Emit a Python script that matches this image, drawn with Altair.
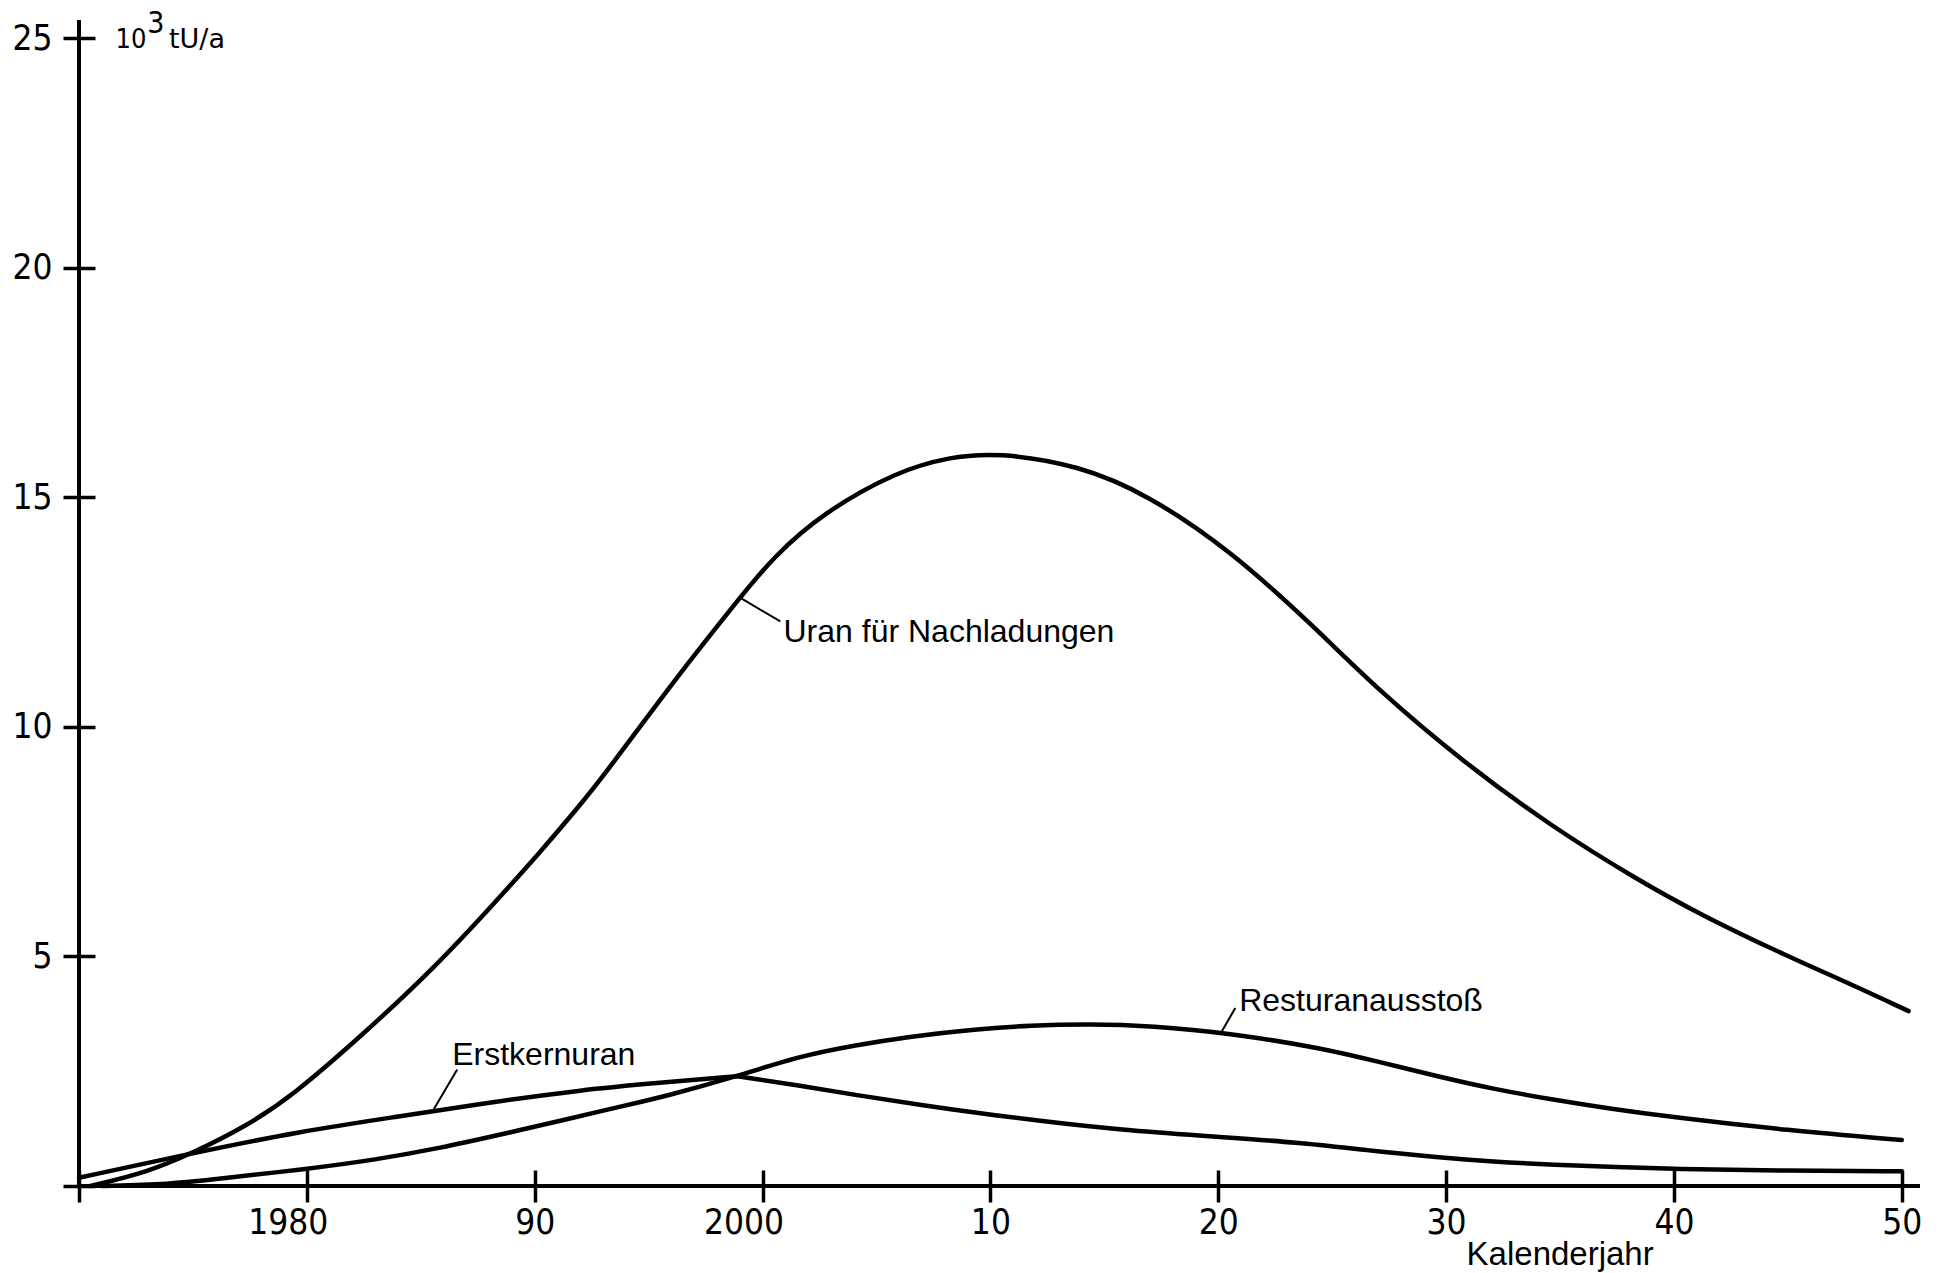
import altair as alt
import pandas as pd

# Uranbedarf in 10^3 t U pro Jahr
nach_years = [1970.5, 1973.0, 1975.0, 1977.4, 1979.4, 1982.35, 1985.6, 1988.3, 1990.2,
              1992.0, 1993.2, 1996.1, 1998.9, 2000.5, 2002.7, 2005.9, 2008.2, 2010.3,
              2013.9, 2016.9, 2020.5, 2024.2, 2027.0, 2030.8, 2034.6, 2038.4, 2041.2,
              2045.0, 2047.8, 2050.3]
nach_vals = [0.0, 0.3, 0.72, 1.32, 1.98, 3.25, 4.75, 6.2, 7.25,
             8.3, 9.05, 11.0, 12.75, 13.72, 14.68, 15.57, 15.88, 15.98,
             15.7, 15.06, 13.86, 12.19, 10.81, 9.22, 7.84, 6.67, 5.9,
             5.0, 4.39, 3.81]

erst_years = [1970.0, 1975.0, 1979.7, 1984.1, 1988.0, 1992.0, 1995.5, 1998.9,
              2001.5, 2004.1, 2007.0, 2010.2, 2013.0, 2016.0, 2020.0, 2023.5,
              2026.5, 2029.7, 2032.0, 2034.8, 2037.5, 2039.9, 2045.0, 2050.0]
erst_vals = [0.18, 0.72, 1.19, 1.52, 1.82, 2.09, 2.25, 2.39,
             2.2, 1.98, 1.76, 1.54, 1.37, 1.21, 1.07, 0.95,
             0.78, 0.62, 0.53, 0.46, 0.41, 0.37, 0.33, 0.32]
erst_peak = 7  # index of the sharp maximum

rest_years = [1971.0, 1974.0, 1976.0, 1980.0, 1983.0, 1985.9, 1988.5, 1991.4, 1993.5,
              1995.8, 1998.9, 2001.6, 2004.1, 2006.5, 2009.2, 2011.8, 2014.3, 2017.1,
              2020.5, 2024.6, 2027.0, 2029.7, 2032.0, 2034.8, 2037.0, 2039.9, 2045.0,
              2050.0]
rest_vals = [0.0, 0.04, 0.15, 0.37, 0.57, 0.83, 1.12, 1.45, 1.7,
             1.96, 2.39, 2.83, 3.07, 3.26, 3.41, 3.5, 3.53, 3.49,
             3.33, 3.0, 2.71, 2.38, 2.12, 1.87, 1.7, 1.5, 1.21,
             1.0]

x_ticks = [1970, 1980, 1990, 2000, 2010, 2020, 2030, 2040, 2050]
x_labels = ["", "1980", "90", "2000", "10", "20", "30", "40", "50"]
y_ticks = [0, 5, 10, 15, 20, 25]
y_labels = ["", "5", "10", "15", "20", "25"]

X_DOMAIN = [1970, 2050.8]
Y_DOMAIN = [0, 25.4]

COND = "DejaVu Sans Condensed, Liberation Sans, sans-serif"
SANS = "Liberation Sans, Arial, sans-serif"

# ---- curve table -------------------------------------------------------
rows = []
for y, v in zip(nach_years, nach_vals):
    rows.append({"year": y, "value": v, "seg": "nach"})
for i, (y, v) in enumerate(zip(erst_years, erst_vals)):
    if i <= erst_peak:
        rows.append({"year": y, "value": v, "seg": "erst_a"})
    if i >= erst_peak:
        rows.append({"year": y, "value": v, "seg": "erst_b"})
for y, v in zip(rest_years, rest_vals):
    rows.append({"year": y, "value": v, "seg": "rest"})
curves = pd.DataFrame(rows)


def label_expr(values, labels):
    expr = "''"
    for val, lab in reversed(list(zip(values, labels))):
        expr = f"datum.value == {val} ? '{lab}' : ({expr})"
    return expr


# four-digit year labels sit a little left of their tick
four_digit = " || ".join(f"datum.value == {v}" for v, lab in zip(x_ticks, x_labels) if len(lab) == 4)

x_scale = alt.Scale(domain=X_DOMAIN, nice=False, zero=False)
y_scale = alt.Scale(domain=Y_DOMAIN, nice=False, zero=False)

x_axis = alt.Axis(values=x_ticks, labelExpr=label_expr(x_ticks, x_labels),
                  tickSize=32, offset=-16, domain=False, grid=False,
                  tickWidth=3.5, tickColor="black", labelColor="black",
                  labelFont=COND, labelFontSize=35, labelPadding=3,
                  labelOffset={"condition": {"test": four_digit, "value": -19}, "value": 0},
                  labelFlush=False, labelOverlap=False, title=None)
y_axis = alt.Axis(values=y_ticks, labelExpr=label_expr(y_ticks, y_labels),
                  tickSize=32, offset=-16, domain=False, grid=False,
                  tickWidth=3.5, tickColor="black", labelColor="black",
                  labelFont=COND, labelFontSize=35, labelPadding=11,
                  labelFlush=False, labelOverlap=False, title=None)


def ex(field):
    return alt.X(field, type="quantitative", scale=x_scale, axis=x_axis)


def ey(field):
    return alt.Y(field, type="quantitative", scale=y_scale, axis=y_axis)


lines = alt.Chart(curves).mark_line(
    interpolate="basis", color="black", strokeWidth=4.5,
    strokeCap="round", strokeJoin="round"
).encode(x=ex("year"), y=ey("value"), detail="seg:N")

# axis lines
axis_lines = pd.DataFrame({
    "x": [X_DOMAIN[0], X_DOMAIN[0]], "x2": [X_DOMAIN[1], X_DOMAIN[0]],
    "y": [Y_DOMAIN[0], Y_DOMAIN[0]], "y2": [Y_DOMAIN[0], Y_DOMAIN[1]],
})
axes = alt.Chart(axis_lines).mark_rule(color="black", strokeWidth=4).encode(
    x=ex("x"), x2="x2:Q", y=ey("y"), y2="y2:Q",
)

# leader lines from curve to its label
leaders = pd.DataFrame({
    "x": [1999.03, 1985.57, 2020.16], "x2": [2000.78, 1986.6, 2020.75],
    "y": [12.81, 1.67, 3.37], "y2": [12.30, 2.54, 3.88],
})
leader_rules = alt.Chart(leaders).mark_rule(color="black", strokeWidth=2).encode(
    x=ex("x"), x2="x2:Q", y=ey("y"), y2="y2:Q",
)

names = pd.DataFrame({
    "x": [2000.92, 1986.38, 2020.92],
    "y": [11.86, 2.645, 3.81],
    "text": ["Uran für Nachladungen", "Erstkernuran", "Resturanausstoß"],
})
name_text = alt.Chart(names).mark_text(
    align="left", baseline="alphabetic", font=SANS, fontSize=32, color="black"
).encode(x=ex("x"), y=ey("y"), text="text:N")

xtitle = pd.DataFrame({"x": [2030.9], "y": [-1.72], "text": ["Kalenderjahr"]})
xtitle_text = alt.Chart(xtitle).mark_text(
    align="left", baseline="alphabetic", font=SANS, fontSize=33, color="black"
).encode(x=ex("x"), y=ey("y"), text="text:N")

# unit: 10^3 tU/a
unit_ten = alt.Chart(pd.DataFrame({"x": [1971.6], "y": [24.78], "text": ["10"]})).mark_text(
    align="left", baseline="alphabetic", font=COND, fontSize=27, color="black"
).encode(x=ex("x"), y=ey("y"), text="text:N")
unit_exp = alt.Chart(pd.DataFrame({"x": [1973.0], "y": [25.11], "text": ["3"]})).mark_text(
    align="left", baseline="alphabetic", font=COND, fontSize=30, color="black"
).encode(x=ex("x"), y=ey("y"), text="text:N")
unit_rest = alt.Chart(pd.DataFrame({"x": [1973.95], "y": [24.78], "text": ["tU/a"]})).mark_text(
    align="left", baseline="alphabetic", font="DejaVu Sans", fontSize=27, color="black"
).encode(x=ex("x"), y=ey("y"), text="text:N")

chart = alt.layer(
    lines, axes, leader_rules, name_text, xtitle_text, unit_ten, unit_exp, unit_rest
).properties(
    width=1841, height=1166,
    autosize=alt.AutoSizeParams(type="none"),
    padding={"left": 79, "top": 20, "right": 20, "bottom": 87},
    background="white",
).configure_view(stroke=None)

chart.save("out.html", embed_options={"renderer": "svg", "actions": False})
